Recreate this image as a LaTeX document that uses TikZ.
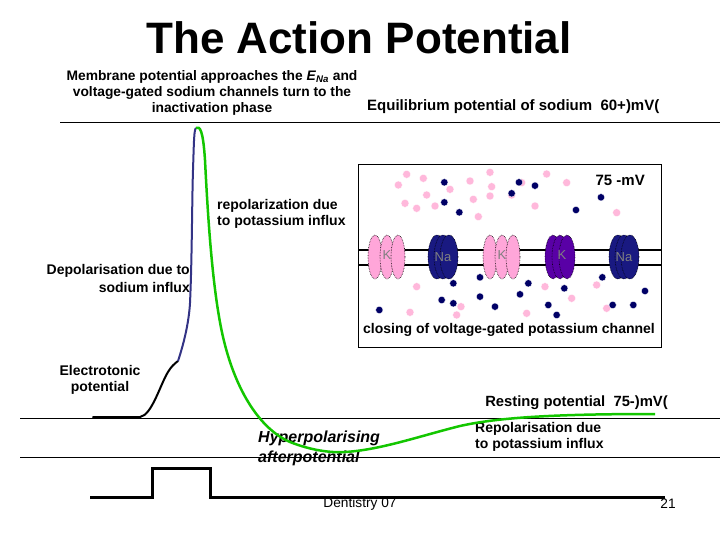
\documentclass[tikz,border=0pt]{standalone}
\usepackage{fontspec}
\setmainfont{Liberation Sans}
\begin{document}
\begin{tikzpicture}[x=1pt,y=-1pt,
  lbl/.style={font=\fontsize{14}{16}\selectfont\bfseries,inner sep=0pt,align=center},
  pdot/.style={fill=pink!80!magenta!70,draw=white,line width=0.3pt},
  ndot/.style={fill=blue!40!black,draw=white,line width=0.3pt},
  kch/.style={fill=pink!75!magenta!80,draw=black,line width=0.6pt,densely dotted},
  nach/.style={fill=blue!45!black!90,draw=black,line width=0.6pt,densely dotted},
  axis/.style={line width=0.6pt}]
\useasboundingbox (0,0) rectangle (720,540);
\node[font=\fontsize{44}{50}\selectfont\bfseries] (title) at (359,38) {The Action Potential};
\node[lbl,font=\fontsize{13.8}{16}\selectfont\bfseries] (tl) at (212,93) {Membrane potential approaches the \textit{E}\textsubscript{\textit{Na}} and\\voltage-gated sodium channels turn to the\\inactivation phase};
\node[lbl,anchor=west,font=\fontsize{15}{17}\selectfont\bfseries] (eq) at (367,107) {Equilibrium potential of sodium\ \ 60+)mV(};
\draw[axis] (60,122) -- (720,122);
\draw[axis] (20,418) -- (720,418);
\draw[axis] (20,457) -- (720,457);
% inset
\draw[line width=1pt] (358,165) rectangle (661,347);
\node[lbl,anchor=east,font=\fontsize{15}{17}\selectfont\bfseries] (mv) at (645,180) {75 -mV};
\draw[line width=1.2pt] (358,250) -- (661,250) (358,265) -- (661,265);
\begin{scope}[shift={(355,160)},x=0.3333pt,y=-0.3333pt]
\foreach \p in {(155,43),(205,55),(130,75),(285,88),(345,63),(405,37),(410,80),(215,105),(355,118),(405,108),(470,105),(500,68),(575,42),(635,68),(150,130),(185,145),(240,138),(370,170),(540,138),(785,158),(185,380),(318,440),(305,465),(165,457),(515,460),(570,380),(650,415),(725,375),(755,445)}
  \fill[pdot] \p circle (12);
\foreach \p in {(268,67),(268,127),(313,157),(492,67),(540,77),(470,100),(663,150),(738,112),(375,352),(295,370),(260,420),(295,430),(375,410),(420,440),(73,450),(520,370),(495,403),(580,435),(628,385),(605,465),(742,352),(870,393),(773,435),(835,435)}
  \fill[ndot] \p circle (11);
\end{scope}
\foreach \cx in {375,387,398}{\draw[kch] (\cx,257) ellipse (7 and 22);}
\foreach \cx in {490,502,513}{\draw[kch] (\cx,257) ellipse (7 and 22);}
\foreach \cx in {553,560,567}{\draw[draw=black,fill=violet!70!blue,line width=0.6pt,densely dotted] (\cx,257) ellipse (8 and 22);}
\foreach \cx in {437,443,449}{\draw[nach] (\cx,257) ellipse (9 and 22);}
\foreach \cx in {618,624,630}{\draw[nach] (\cx,257) ellipse (9 and 22);}
\node[text=gray,font=\fontsize{13}{14}\selectfont] (k1) at (387,255) {K};
\node[text=gray,font=\fontsize{13}{14}\selectfont] (na1) at (443,257) {Na};
\node[text=gray,font=\fontsize{13}{14}\selectfont] (k2) at (502,255) {K};
\node[text=gray,font=\fontsize{13}{14}\selectfont] (k3) at (562,255) {K};
\node[text=gray,font=\fontsize{13}{14}\selectfont] (na2) at (624,257) {Na};
\node[lbl] (close) at (509,330) {closing of voltage-gated potassium channel};
% labels
\node[lbl,anchor=north west,align=left] (rep) at (217,199) {repolarization due\\to potassium influx};
\node[lbl,anchor=north east,align=right,font=\fontsize{14}{18}\selectfont\bfseries] (dep) at (190,264) {Depolarisation due to\\sodium influx};
\node[lbl] (el) at (100,380) {Electrotonic\\potential};
\node[lbl,anchor=east,font=\fontsize{14.8}{17}\selectfont\bfseries] (rest) at (668,403) {Resting potential\ \ 75-)mV(};
\node[lbl,anchor=north west,align=left] (rep2) at (475,422) {Repolarisation due\\to potassium influx};
\node[lbl,anchor=north west,align=left,font=\fontsize{16}{20}\selectfont\bfseries\itshape] (hyp) at (258,431) {Hyperpolarising\\afterpotential};
% curve
\draw[line width=2pt,line cap=round] (93,417) -- (140,417) .. controls (152,415) and (160,385) .. (168,372) .. controls (171,367) and (174,364) .. (178,361);
\draw[blue!40!black!80!white,line width=2pt] (178,361) .. controls (185,340) and (189,320) .. (190,303) .. controls (192,260) and (192,200) .. (193,170) .. controls (194,140) and (194,130) .. (196,128);
\draw[green!75!black!90!lime,line width=2.5pt] (196,128) .. controls (200,126) and (203,130) .. (205,160) .. controls (208,220) and (213,300) .. (225,345) .. controls (238,395) and (262,430) .. (290,442) .. controls (310,450) and (330,453) .. (345,452) .. controls (380,450) and (420,436) .. (460,426) .. controls (500,417) and (560,414) .. (655,414);
% step
\draw[line width=3pt] (90,497) -- (152,497) -- (152,468) -- (210,468) -- (210,497) -- (665,497);
\node[font=\fontsize{13.7}{15}\selectfont] (dent) at (360,504) {Dentistry 07};
\node[font=\fontsize{13.7}{15}\selectfont] (num) at (668,504) {21};
\end{tikzpicture}
\end{document}
